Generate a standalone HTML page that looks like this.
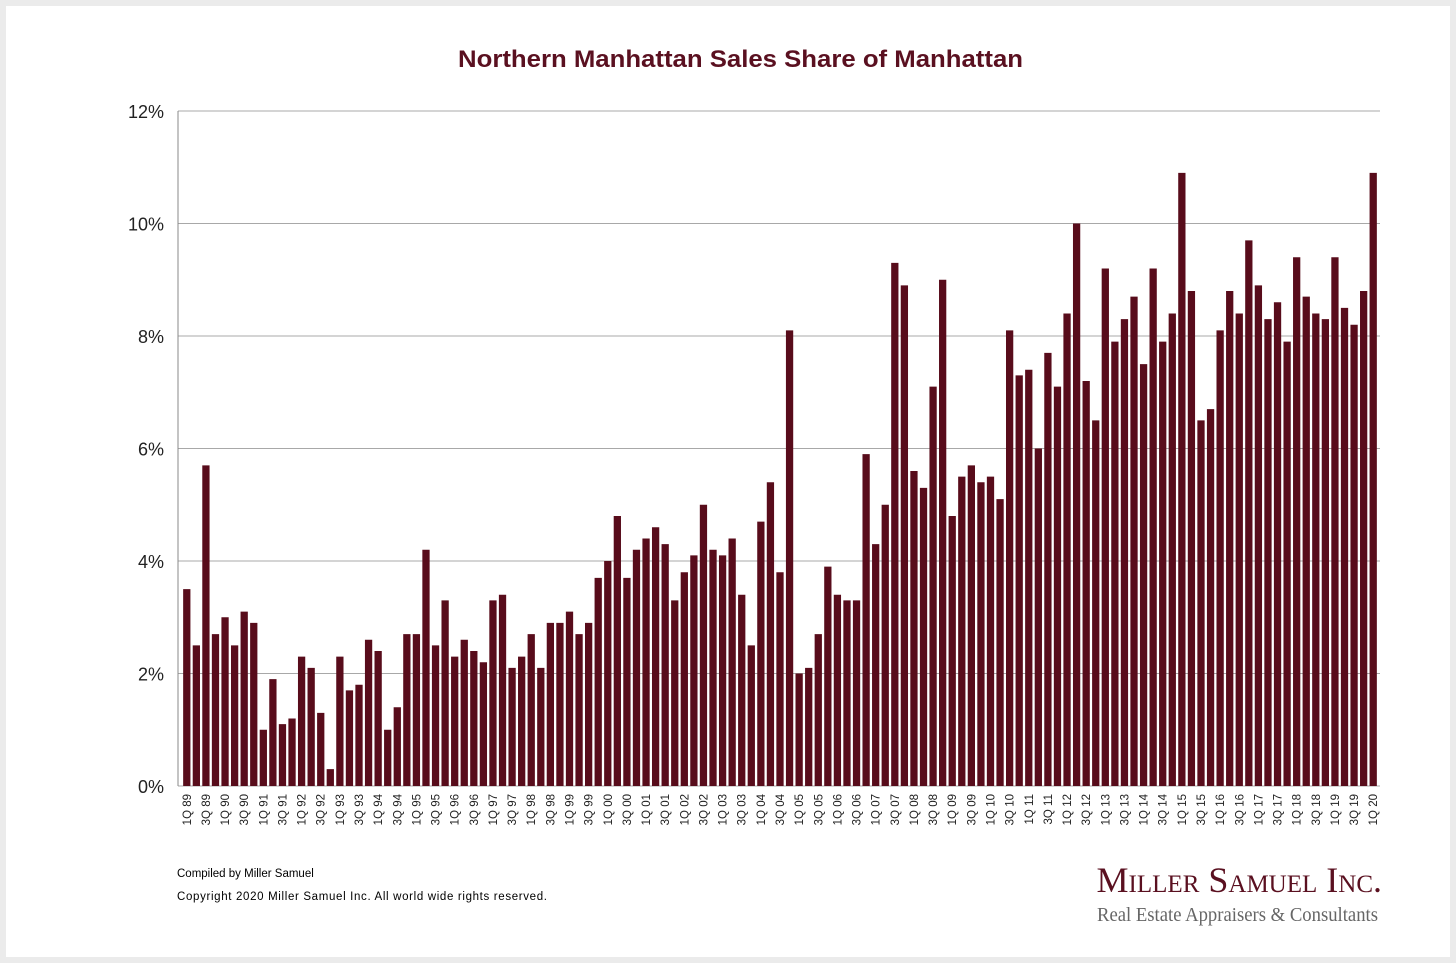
<!DOCTYPE html>
<html><head><meta charset="utf-8">
<style>
body{margin:0;background:#fff;}
#frame{position:absolute;left:0;top:0;width:1456px;height:963px;box-sizing:border-box;border:6px solid #ebebeb;background:#fff;}
svg text{font-family:"Liberation Sans",Arial,sans-serif;}
</style></head>
<body>
<div id="frame"></div>
<svg id="chart" width="1456" height="963" style="position:absolute;left:0;top:0">
<text x="458" y="67" textLength="565" lengthAdjust="spacingAndGlyphs" font-size="24" font-weight="bold" fill="#5a1020">Northern Manhattan Sales Share of Manhattan</text>
<g id="grid"></g><g id="bars"></g><g id="xlabels"></g>
<text x="177" y="877" font-size="11.5" fill="#000">Compiled by Miller Samuel</text>
<text x="177" y="900" textLength="370" font-size="11.5" fill="#000">Copyright 2020 Miller Samuel Inc.  All world wide rights reserved.</text>
<text x="1382" y="892" text-anchor="end" font-size="36" fill="#5a1020" style="font-family:'Liberation Serif',serif;font-variant:small-caps">Miller Samuel Inc.</text>
<text x="1097" y="921" textLength="281" lengthAdjust="spacingAndGlyphs" font-size="20" fill="#666" style="font-family:'Liberation Serif',serif">Real Estate Appraisers &amp; Consultants</text>
</svg>
<script>
const values=[3.5,2.5,5.7,2.7,3.0,2.5,3.1,2.9,1.0,1.9,1.1,1.2,2.3,2.1,1.3,0.3,2.3,1.7,1.8,2.6,2.4,1.0,1.4,2.7,2.7,4.2,2.5,3.3,2.3,2.6,2.4,2.2,3.3,3.4,2.1,2.3,2.7,2.1,2.9,2.9,3.1,2.7,2.9,3.7,4.0,4.8,3.7,4.2,4.4,4.6,4.3,3.3,3.8,4.1,5.0,4.2,4.1,4.4,3.4,2.5,4.7,5.4,3.8,8.1,2.0,2.1,2.7,3.9,3.4,3.3,3.3,5.9,4.3,5.0,9.3,8.9,5.6,5.3,7.1,9.0,4.8,5.5,5.7,5.4,5.5,5.1,8.1,7.3,7.4,6.0,7.7,7.1,8.4,10.0,7.2,6.5,9.2,7.9,8.3,8.7,7.5,9.2,7.9,8.4,10.9,8.8,6.5,6.7,8.1,8.8,8.4,9.7,8.9,8.3,8.6,7.9,9.4,8.7,8.4,8.3,9.4,8.5,8.2,8.8,10.9];
const yTicks=[0,2,4,6,8,10,12];
const startYear=89;
const categories=values.map((v,i)=>{const q=i%4+1;const y=(startYear+Math.floor(i/4))%100;return q+'Q '+String(y).padStart(2,'0');});
const NS='http://www.w3.org/2000/svg';
const X0=182,X1=1378,Y0=786,Y1=111,YMAX=12;
const step=(X1-X0)/values.length;
const xPos=i=>X0+(i+0.5)*step;
const yPos=v=>Y0-(v/YMAX)*(Y0-Y1);
function mk(tag,attrs,parent){const e=document.createElementNS(NS,tag);for(const k in attrs)e.setAttribute(k,attrs[k]);parent.appendChild(e);return e;}
const grid=document.getElementById('grid');
yTicks.forEach(t=>{
  const l=mk('line',{x1:178,x2:1380,y1:yPos(t),y2:yPos(t),stroke:'#a8a8a8','stroke-width':1},grid);
  
  
  const tx=mk('text',{x:164,y:yPos(t)+7,'text-anchor':'end','font-size':18,fill:'#222'},grid);
  tx.textContent=t+'%';
  
  
});
const ax=mk('line',{x1:178,x2:178,y1:Y1,y2:Y0,stroke:'#888','stroke-width':1},grid);


const bars=document.getElementById('bars');
const bw=step*0.76;
values.forEach((v,i)=>{
  const r=mk('rect',{x:xPos(i)-bw/2,y:yPos(v),width:bw,height:Y0-yPos(v),fill:'#580c1b'},bars);
  
  
});
const xl=document.getElementById('xlabels');
categories.forEach((c,i)=>{
  if(i%2!==0)return;
  const x=xPos(i)+4,y=794;
  const t=mk('text',{x:x,y:y,'text-anchor':'end','font-size':11.5,fill:'#222',transform:`rotate(-90 ${x} ${y})`},xl);
  t.textContent=c;
  
  
});
</script>
</body></html>
